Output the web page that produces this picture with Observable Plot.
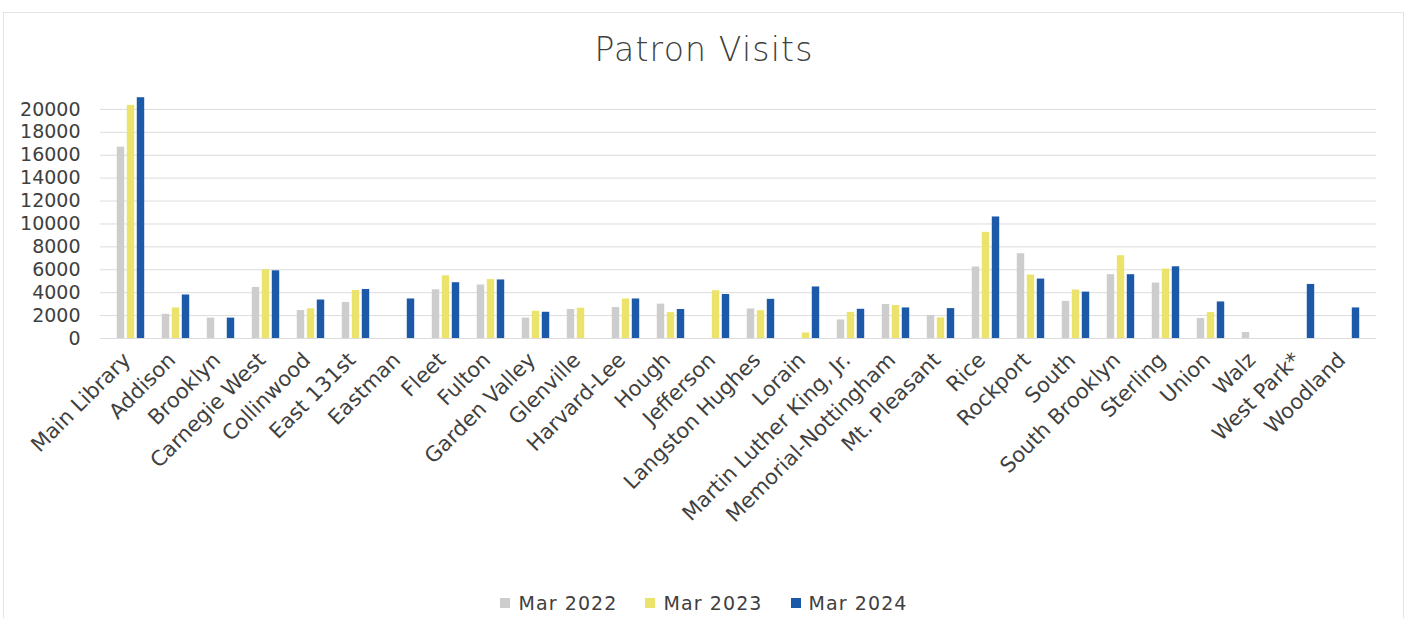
<!DOCTYPE html>
<html>
<head>
<meta charset="utf-8">
<script src="https://cdn.jsdelivr.net/npm/d3@7"></script>
<script src="https://cdn.jsdelivr.net/npm/@observablehq/plot@0.6"></script>
<style>
  html, body { margin: 0; padding: 0; background: #fff; }
  body { width: 1408px; height: 618px; overflow: hidden; font-family: "DejaVu Sans", sans-serif; color: #404040; position: relative; }
  #frame { position: absolute; left: 3px; top: 12px; width: 1401px; height: 640px; border: 1px solid #e4e4e4; box-sizing: border-box; }
  #title { position: relative; height: 80px; text-align: center; font-size: 33px; font-weight: 300; line-height: 100px; letter-spacing: 1.2px; }
  #chart { position: relative; height: 500px; }
  #legend { position: relative; display: flex; justify-content: center; align-items: center; gap: 28px; padding-top: 12px; font-size: 19px; letter-spacing: 1.1px; }
  #legend .item { display: flex; align-items: center; gap: 8px; }
  #legend .sw { width: 10px; height: 10px; display: inline-block; }
</style>
</head>
<body>
<div id="frame"></div>
<div id="title">Patron Visits</div>
<div id="chart"></div>
<div id="legend"></div>
<script>
const categories = ["Main Library", "Addison", "Brooklyn", "Carnegie West", "Collinwood", "East 131st", "Eastman", "Fleet", "Fulton", "Garden Valley", "Glenville", "Harvard-Lee", "Hough", "Jefferson", "Langston Hughes", "Lorain", "Martin Luther King, Jr.", "Memorial-Nottingham", "Mt. Pleasant", "Rice", "Rockport", "South", "South Brooklyn", "Sterling", "Union", "Walz", "West Park*", "Woodland"];
const seriesNames = ["Mar 2022", "Mar 2023", "Mar 2024"];
const seriesColors = ["#cdcdcd", "#ebe36b", "#1c59a9"];
const mar2022 = [16700, 2110, 1780, 4460, 2440, 3150, null, 4250, 4670, 1780, 2530, 2700, 3000, null, 2580, null, 1620, 2970, 2010, 6240, 7400, 3240, 5570, 4840, 1740, 520, null, null];
const mar2023 = [20350, 2670, null, 6000, 2590, 4190, null, 5470, 5140, 2380, 2640, 3450, 2260, 4170, 2430, 480, 2280, 2880, 1800, 9270, 5540, 4230, 7230, 6060, 2260, null, null, null];
const mar2024 = [21020, 3800, 1780, 5910, 3360, 4280, 3450, 4870, 5110, 2290, null, 3450, 2530, 3840, 3420, 4500, 2550, 2670, 2610, 10610, 5190, 4050, 5570, 6260, 3190, null, 4720, 2670];
const yTicks = [0, 2000, 4000, 6000, 8000, 10000, 12000, 14000, 16000, 18000, 20000];

const seriesValues = [mar2022, mar2023, mar2024];
const rows = seriesValues.map(vals => categories.map((c, i) => ({category: c, value: vals[i]})).filter(d => d.value != null));

const W = 1408, H = 500, mL = 100, mR = 32;
const step = (W - mL - mR) / categories.length;
const barW = 8, gap = 10;
const inset = (step - barW) / 2;

const plot = Plot.plot({
  width: W,
  height: H,
  marginLeft: mL,
  marginRight: mR,
  marginTop: 6,
  marginBottom: 242,
  style: {fontFamily: "DejaVu Sans, sans-serif", fontSize: "18px", color: "#404040", background: "transparent", overflow: "visible"},
  x: {domain: categories, padding: 0, label: null},
  y: {domain: [0, 22000], label: null},
  marks: [
    Plot.gridY(yTicks, {stroke: "#dcdcdc", strokeOpacity: 1}),
    ...rows.map((data, k) => Plot.barY(data, {
      x: "category", y: "value", fill: seriesColors[k],
      insetLeft: inset, insetRight: inset, dx: (k - 1) * gap
    })),
    Plot.axisY(yTicks, {tickSize: 0, tickPadding: 20, fontSize: 19, tickFormat: d => String(d), label: null, letterSpacing: 1.4}),
    Plot.axisX({tickSize: 0, tickRotate: -45, tickPadding: 18, fontSize: 21, textAnchor: "end", label: null, dx: -4, letterSpacing: 1.6})
  ]
});
document.getElementById("chart").appendChild(plot);

const legend = document.getElementById("legend");
seriesNames.forEach((name, k) => {
  const item = document.createElement("div");
  item.className = "item";
  const sw = document.createElement("span");
  sw.className = "sw";
  sw.style.background = seriesColors[k];
  const t = document.createElement("span");
  t.textContent = name;
  item.appendChild(sw);
  item.appendChild(t);
  legend.appendChild(item);
});
</script>
</body>
</html>
